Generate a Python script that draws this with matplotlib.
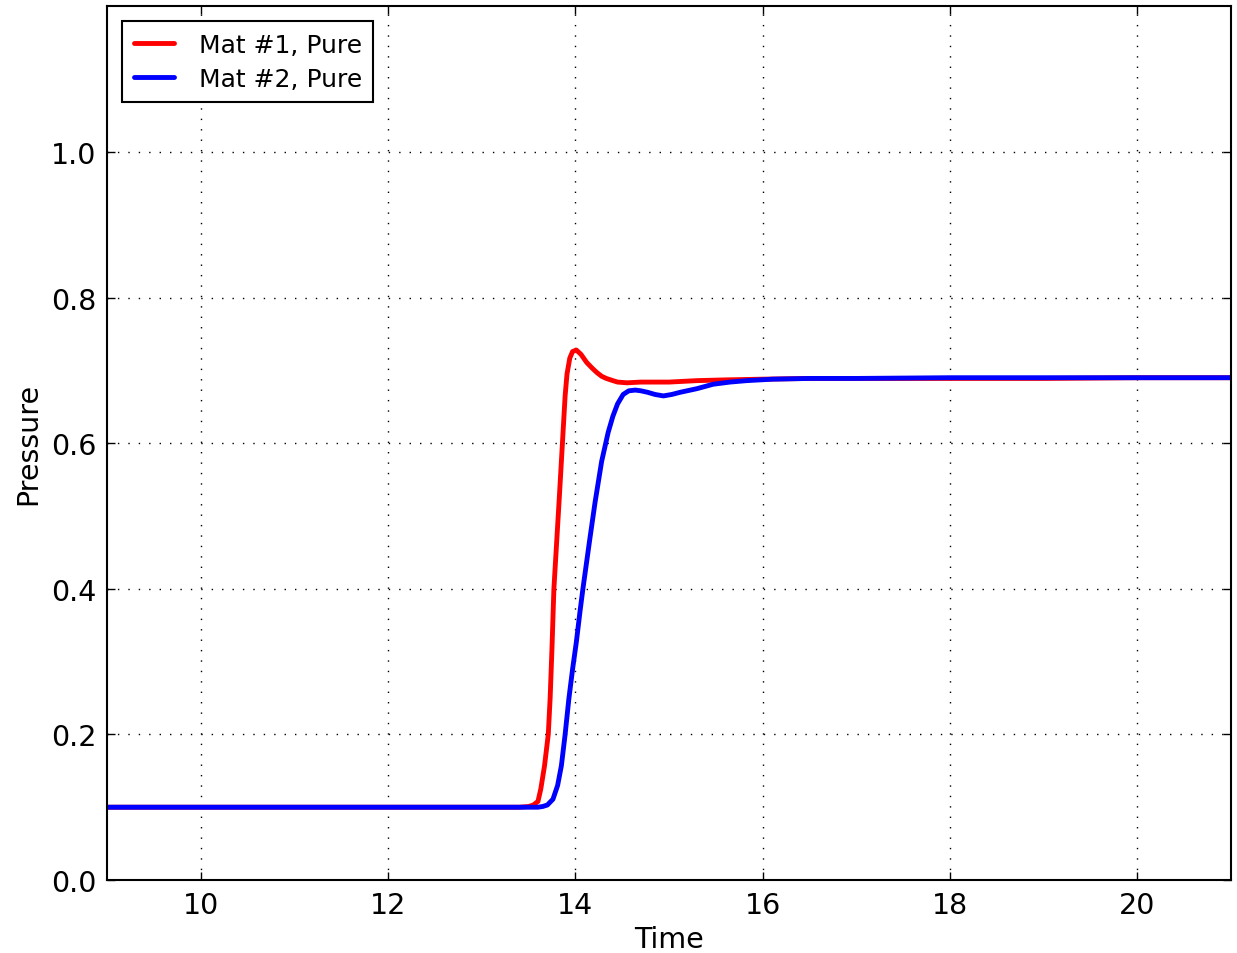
import matplotlib
matplotlib.use("Agg")
import matplotlib.pyplot as plt
import numpy as np

# pressure history for the two pure materials
t_mat1 = [9.0, 13.0, 13.4, 13.5, 13.55, 13.6, 13.63, 13.67, 13.71, 13.73, 13.75,
          13.77, 13.8, 13.83, 13.85, 13.87, 13.89, 13.91, 13.94, 13.97, 14.01, 14.06,
          14.12, 14.18, 14.23, 14.28, 14.33, 14.4, 14.45, 14.55, 14.7, 15.0, 15.3,
          15.6, 16.0, 16.5, 17.0, 18.0, 19.0, 20.0, 21.0]
p_mat1 = [0.1, 0.1, 0.1, 0.101, 0.103, 0.108, 0.125, 0.157, 0.2, 0.25, 0.32,
          0.4, 0.465, 0.53, 0.575, 0.62, 0.665, 0.695, 0.717, 0.726, 0.728, 0.722,
          0.711, 0.703, 0.697, 0.692, 0.689, 0.686, 0.684, 0.683, 0.684, 0.684, 0.686,
          0.687, 0.688, 0.689, 0.689, 0.689, 0.689, 0.69, 0.69]

t_mat2 = [9.0, 13.0, 13.6, 13.65, 13.7, 13.76, 13.81, 13.85, 13.89, 13.93, 13.97,
          14.01, 14.05, 14.08, 14.15, 14.21, 14.28, 14.35, 14.4, 14.45, 14.51, 14.57,
          14.64, 14.7, 14.77, 14.85, 14.94, 15.03, 15.12, 15.3, 15.47, 15.65, 15.83,
          16.11, 16.5, 17.0, 18.0, 19.0, 20.0, 21.0]
p_mat2 = [0.1, 0.1, 0.1, 0.101, 0.103, 0.111, 0.13, 0.157, 0.2, 0.249, 0.29,
          0.327, 0.37, 0.4, 0.465, 0.519, 0.575, 0.615, 0.637, 0.654, 0.667, 0.672,
          0.673, 0.672, 0.67, 0.667, 0.665, 0.667, 0.67, 0.675, 0.681, 0.684, 0.686,
          0.688, 0.689, 0.689, 0.69, 0.69, 0.69, 0.69]

plt.rcParams['font.family'] = 'DejaVu Sans'
plt.rcParams['xtick.direction'] = 'in'
plt.rcParams['ytick.direction'] = 'in'

fig = plt.figure(figsize=(12.37, 9.54), dpi=100)
ax = fig.add_axes([0.0868, 0.0765, 0.9081, 0.9157])

ax.plot(t_mat1, p_mat1, color='red', lw=3.5, label='Mat #1, Pure',
        solid_joinstyle='round', solid_capstyle='round')
ax.plot(t_mat2, p_mat2, color='blue', lw=3.5, label='Mat #2, Pure',
        solid_joinstyle='round', solid_capstyle='round')

ax.set_xlim(9, 21)
ax.set_ylim(0, 1.2)
ax.set_xticks([10, 12, 14, 16, 18, 20])
ax.set_yticks([0.0, 0.2, 0.4, 0.6, 0.8, 1.0])
ax.tick_params(which='major', length=6, width=1, labelsize=20.5,
               top=True, right=True, pad=8)
ax.grid(True, color='black', linestyle=(0, (1, 6.5)), linewidth=1.0)
for sp in ax.spines.values():
    sp.set_linewidth(1.5)

ax.set_xlabel('Time', fontsize=20.5, labelpad=4)
ax.set_ylabel('Pressure', fontsize=20.5, labelpad=6)

leg = ax.legend(loc='upper left', fontsize=18, fancybox=False, framealpha=1,
                edgecolor='black', handlelength=1.6, handletextpad=1.0,
                borderpad=0.45, labelspacing=0.4, borderaxespad=0.6)
leg.get_frame().set_linewidth(1.5)
for line in leg.get_lines():
    line.set_linewidth(3.5)

fig.savefig('out.png', dpi=100, facecolor='white')
